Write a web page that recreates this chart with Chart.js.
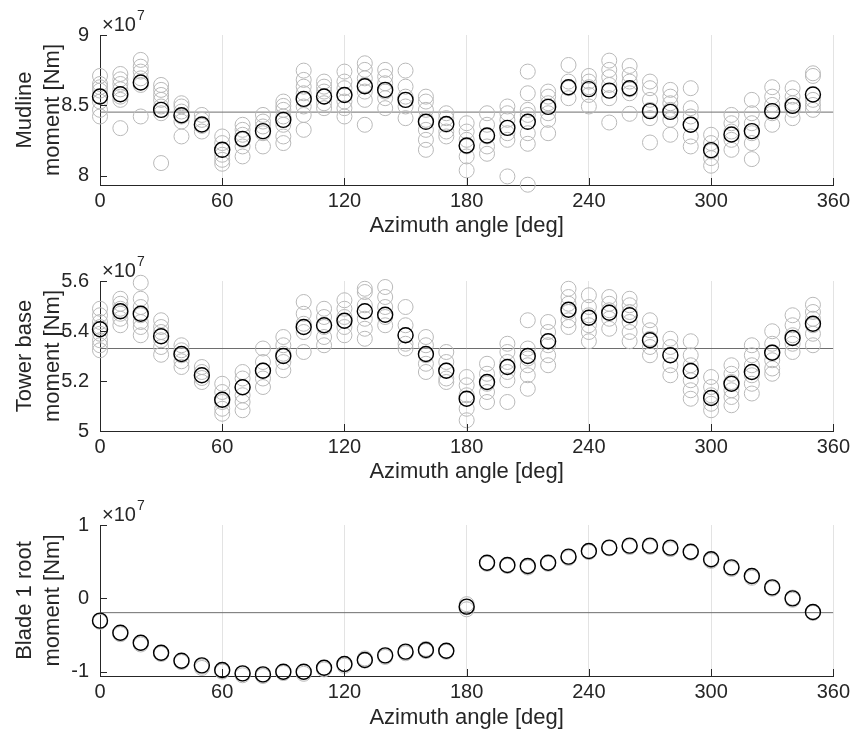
<!DOCTYPE html>
<html>
<head>
<meta charset="utf-8">
<script src="https://cdn.jsdelivr.net/npm/chart.js@4.4.1/dist/chart.umd.min.js"></script>
<style>
  body { margin: 0; background: #fff; }
  canvas { display: block; }
</style>
</head>
<body>
<canvas id="mudline" width="856" height="246"></canvas>
<canvas id="tower" width="856" height="246"></canvas>
<canvas id="blade" width="856" height="246"></canvas>
<script>
// azimuth bins [deg]
const azimuth = [0, 10, 20, 30, 40, 50, 60, 70, 80, 90, 100, 110, 120, 130, 140, 150, 160, 170,
                 180, 190, 200, 210, 220, 230, 240, 250, 260, 270, 280, 290, 300, 310, 320, 330, 340, 350];
const azimuthTicks = [0, 60, 120, 180, 240, 300, 360];

// values below are in units of 1e7 Nm (as on the axes)
const mudlineMean = [8.563, 8.579, 8.662, 8.468, 8.430, 8.364, 8.184, 8.262, 8.317, 8.397, 8.546, 8.563,
                     8.574, 8.636, 8.610, 8.539, 8.383, 8.367, 8.215, 8.286, 8.340, 8.383, 8.489, 8.629,
                     8.615, 8.605, 8.622, 8.459, 8.454, 8.362, 8.182, 8.293, 8.317, 8.459, 8.496, 8.577];
const mudlineSamples = [
  [8.709, 8.652, 8.629, 8.605, 8.562, 8.527, 8.468, 8.421],
  [8.723, 8.685, 8.652, 8.614, 8.562, 8.539, 8.338],
  [8.823, 8.775, 8.740, 8.692, 8.645, 8.421],
  [8.645, 8.610, 8.574, 8.539, 8.492, 8.444, 8.090],
  [8.515, 8.492, 8.456, 8.421, 8.385, 8.279],
  [8.432, 8.397, 8.354, 8.314],
  [8.279, 8.232, 8.184, 8.149, 8.113, 8.085],
  [8.362, 8.326, 8.291, 8.255, 8.208, 8.137],
  [8.432, 8.385, 8.350, 8.302, 8.208],
  [8.527, 8.496, 8.468, 8.421, 8.362, 8.279, 8.232],
  [8.747, 8.681, 8.633, 8.586, 8.539, 8.492, 8.432, 8.326],
  [8.669, 8.633, 8.598, 8.562, 8.515, 8.480],
  [8.740, 8.669, 8.622, 8.574, 8.527, 8.480, 8.421],
  [8.799, 8.752, 8.692, 8.645, 8.598, 8.539, 8.362],
  [8.752, 8.704, 8.657, 8.598, 8.551, 8.480],
  [8.747, 8.633, 8.562, 8.492, 8.409],
  [8.562, 8.527, 8.468, 8.397, 8.326, 8.255, 8.184],
  [8.444, 8.409, 8.362, 8.314, 8.279],
  [8.373, 8.314, 8.255, 8.208, 8.137, 8.038],
  [8.444, 8.362, 8.279, 8.208, 8.156],
  [8.492, 8.444, 8.397, 8.302, 8.255, 7.995],
  [8.740, 8.586, 8.468, 8.432, 8.385, 8.302, 8.227, 7.936],
  [8.598, 8.562, 8.515, 8.444, 8.397, 8.302],
  [8.787, 8.669, 8.622, 8.551],
  [8.709, 8.669, 8.629, 8.574, 8.492],
  [8.818, 8.752, 8.700, 8.645, 8.551, 8.378],
  [8.780, 8.716, 8.669, 8.614, 8.586, 8.440],
  [8.669, 8.622, 8.539, 8.468, 8.409, 8.236],
  [8.610, 8.562, 8.515, 8.468, 8.397, 8.291],
  [8.622, 8.480, 8.421, 8.362, 8.279, 8.208],
  [8.291, 8.232, 8.172, 8.125, 8.071],
  [8.432, 8.373, 8.314, 8.255, 8.184],
  [8.539, 8.444, 8.373, 8.302, 8.232, 8.118],
  [8.629, 8.562, 8.503, 8.444, 8.362],
  [8.622, 8.562, 8.515, 8.468, 8.409],
  [8.728, 8.709, 8.539, 8.503, 8.468]
];
const mudlineLevel = 8.452;
const mudlineTicks = [8, 8.5, 9];
const mudlineTickLabels = ['8', '8.5', '9'];

const towerMean = [5.407, 5.479, 5.469, 5.379, 5.308, 5.223, 5.125, 5.175, 5.241, 5.300, 5.416, 5.423,
                   5.441, 5.479, 5.465, 5.383, 5.308, 5.241, 5.129, 5.196, 5.256, 5.300, 5.359, 5.485,
                   5.453, 5.473, 5.463, 5.363, 5.303, 5.240, 5.132, 5.189, 5.236, 5.313, 5.372, 5.429];
const towerSamples = [
  [5.489, 5.463, 5.436, 5.416, 5.389, 5.363, 5.343, 5.323],
  [5.529, 5.509, 5.489, 5.469, 5.449, 5.423],
  [5.593, 5.529, 5.496, 5.463, 5.436, 5.416, 5.383],
  [5.443, 5.416, 5.396, 5.363, 5.336, 5.305],
  [5.343, 5.323, 5.303, 5.279, 5.256],
  [5.256, 5.236, 5.212, 5.196],
  [5.189, 5.156, 5.116, 5.089, 5.069],
  [5.236, 5.210, 5.176, 5.143, 5.116, 5.083],
  [5.330, 5.276, 5.243, 5.210, 5.176],
  [5.376, 5.343, 5.309, 5.276, 5.243],
  [5.516, 5.469, 5.429, 5.396, 5.316],
  [5.489, 5.456, 5.416, 5.376, 5.343],
  [5.523, 5.489, 5.456, 5.416, 5.383],
  [5.569, 5.556, 5.503, 5.449, 5.409, 5.369],
  [5.576, 5.536, 5.496, 5.456, 5.423],
  [5.496, 5.423, 5.383, 5.349, 5.330],
  [5.376, 5.343, 5.303, 5.269, 5.236],
  [5.316, 5.276, 5.243, 5.210, 5.196],
  [5.216, 5.183, 5.143, 5.089, 5.043],
  [5.269, 5.229, 5.189, 5.156, 5.116],
  [5.349, 5.316, 5.276, 5.236, 5.203, 5.116],
  [5.443, 5.330, 5.290, 5.263, 5.223, 5.169],
  [5.436, 5.396, 5.343, 5.303, 5.263],
  [5.569, 5.536, 5.509, 5.476, 5.443, 5.416],
  [5.543, 5.496, 5.463, 5.423, 5.396, 5.359],
  [5.536, 5.509, 5.483, 5.449, 5.409],
  [5.529, 5.503, 5.476, 5.436, 5.396, 5.359],
  [5.443, 5.403, 5.369, 5.336, 5.303],
  [5.369, 5.336, 5.303, 5.263, 5.223],
  [5.359, 5.303, 5.263, 5.203, 5.163, 5.129],
  [5.216, 5.176, 5.143, 5.109, 5.083],
  [5.263, 5.229, 5.196, 5.163, 5.136, 5.103],
  [5.343, 5.303, 5.263, 5.223, 5.189, 5.150],
  [5.399, 5.349, 5.316, 5.283, 5.250, 5.229],
  [5.463, 5.423, 5.383, 5.349, 5.316],
  [5.505, 5.476, 5.449, 5.423, 5.389, 5.343]
];
const towerLevel = 5.330;
const towerTicks = [5, 5.2, 5.4, 5.6];
const towerTickLabels = ['5', '5.2', '5.4', '5.6'];

const bladeMean = [-0.305, -0.469, -0.606, -0.742, -0.851, -0.915, -0.978, -1.024, -1.038, -1.001, -1.001, -0.947,
                   -0.897, -0.842, -0.778, -0.728, -0.706, -0.715, -0.114, 0.486, 0.454, 0.440, 0.486, 0.568,
                   0.645, 0.691, 0.718, 0.718, 0.691, 0.636, 0.532, 0.422, 0.304, 0.149, -0.001, -0.187];
const bladeSamples = [
  [-0.31, -0.32], [-0.48, -0.49], [-0.61, -0.63], [-0.75, -0.76], [-0.86, -0.87], [-0.93, -0.95],
  [-0.99, -1.00], [-1.03, -1.05], [-1.05, -1.06], [-1.01, -1.02], [-1.01, -1.03], [-0.95, -0.97],
  [-0.90, -0.92], [-0.82, -0.85], [-0.79, -0.80], [-0.74, -0.75], [-0.69, -0.72], [-0.72, -0.73],
  [-0.08, -0.12, -0.15], [0.48, 0.47], [0.45, 0.44], [0.43, 0.42], [0.48, 0.47], [0.56, 0.55],
  [0.64, 0.63], [0.69, 0.68], [0.71, 0.70], [0.71, 0.70], [0.68, 0.67], [0.63, 0.62],
  [0.52, 0.51], [0.41, 0.40], [0.30, 0.28], [0.14, 0.13], [0.01, -0.02], [-0.19, -0.20]
];
const bladeLevel = -0.196;
const bladeTicks = [-1, 0, 1];
const bladeTickLabels = ['-1', '0', '1'];

const FONT = '"Liberation Sans", Arial, sans-serif';
const AXIS = '#262626';

// inward tick marks + the x10^7 multiplier, like the MATLAB axes
const matlabAxes = {
  id: 'matlabAxes',
  afterDraw(chart) {
    const { ctx, chartArea: a, scales: { x, y } } = chart;
    ctx.save();
    ctx.strokeStyle = AXIS;
    ctx.lineWidth = 1;
    ctx.beginPath();
    x.ticks.forEach(t => {
      const px = Math.round(x.getPixelForValue(t.value)) + 0.5;
      ctx.moveTo(px, a.bottom);
      ctx.lineTo(px, a.bottom - 7);
    });
    y.ticks.forEach(t => {
      const py = Math.round(y.getPixelForValue(t.value)) + 0.5;
      ctx.moveTo(a.left, py);
      ctx.lineTo(a.left + 7, py);
    });
    ctx.stroke();

    ctx.fillStyle = AXIS;
    ctx.textBaseline = 'alphabetic';
    ctx.font = '20px ' + FONT;
    ctx.fillText('\u00d710', a.left + 2, a.top - 4);
    const w = ctx.measureText('\u00d710').width;
    ctx.font = '14px ' + FONT;
    ctx.fillText('7', a.left + 3 + w, a.top - 15);
    ctx.restore();
  }
};

function buildPanel(id, p) {
  const black = p.means.map((v, i) => ({ x: azimuth[i], y: v }));
  const gray = [];
  p.samples.forEach((list, i) => list.forEach(v => gray.push({ x: azimuth[i], y: v })));

  return new Chart(document.getElementById(id), {
    type: 'scatter',
    data: {
      datasets: [
        { data: black, pointRadius: 7.5, pointBorderWidth: 1.4, pointBorderColor: '#000',
          pointBackgroundColor: 'rgba(0,0,0,0)', clip: false },
        { data: gray, pointRadius: 7.5, pointBorderWidth: 1, pointBorderColor: '#b9b9b9',
          pointBackgroundColor: 'rgba(0,0,0,0)', clip: false },
        { type: 'line', data: [{ x: 0, y: p.level }, { x: 360, y: p.level }],
          borderColor: '#6e6e6e', borderWidth: 1, pointRadius: 0 }
      ]
    },
    options: {
      responsive: false,
      animation: false,
      devicePixelRatio: 1,
      layout: { padding: { top: p.top, right: 17, left: 0, bottom: 0 } },
      plugins: { legend: { display: false }, tooltip: { enabled: false } },
      scales: {
        x: {
          type: 'linear', min: 0, max: 360,
          afterBuildTicks: s => { s.ticks = azimuthTicks.map(v => ({ value: v })); },
          afterFit: s => { s.height = p.bottom; },
          ticks: { font: { family: FONT, size: 20, lineHeight: 1 }, color: AXIS, padding: 6, maxRotation: 0, autoSkip: false },
          grid: { drawTicks: false, color: c => (c.tick && c.tick.value === 0) ? 'rgba(0,0,0,0)' : '#e3e3e3' },
          border: { display: true, color: AXIS, width: 1 },
          title: { display: true, text: 'Azimuth angle [deg]', color: AXIS,
                   font: { family: FONT, size: 22, lineHeight: 1.2 }, padding: { top: 0, bottom: 7 } }
        },
        y: {
          min: p.min, max: p.max,
          afterBuildTicks: s => { s.ticks = p.ticks.map(v => ({ value: v })); },
          afterFit: s => { s.width = 100; },
          ticks: { font: { family: FONT, size: 20 }, color: AXIS, padding: 3,
                   callback: (v, i) => p.tickLabels[i] },
          grid: { display: false },
          border: { display: true, color: AXIS, width: 1 },
          title: { display: true, text: p.title, color: AXIS,
                   font: { family: FONT, size: 22, lineHeight: 1.273 }, padding: { top: 11, bottom: 0 } }
        }
      }
    },
    plugins: [matlabAxes]
  });
}

buildPanel('mudline', { means: mudlineMean, samples: mudlineSamples, level: mudlineLevel,
  ticks: mudlineTicks, tickLabels: mudlineTickLabels, min: 7.934, max: 9,
  title: ['Mudline', 'moment [Nm]'], top: 35, bottom: 61 });
buildPanel('tower', { means: towerMean, samples: towerSamples, level: towerLevel,
  ticks: towerTicks, tickLabels: towerTickLabels, min: 5, max: 5.6,
  title: ['Tower base', 'moment [Nm]'], top: 35, bottom: 61 });
buildPanel('blade', { means: bladeMean, samples: bladeSamples, level: bladeLevel,
  ticks: bladeTicks, tickLabels: bladeTickLabels, min: -1.06, max: 1,
  title: ['Blade 1 root', 'moment [Nm]'], top: 33, bottom: 62 });
</script>
</body>
</html>
